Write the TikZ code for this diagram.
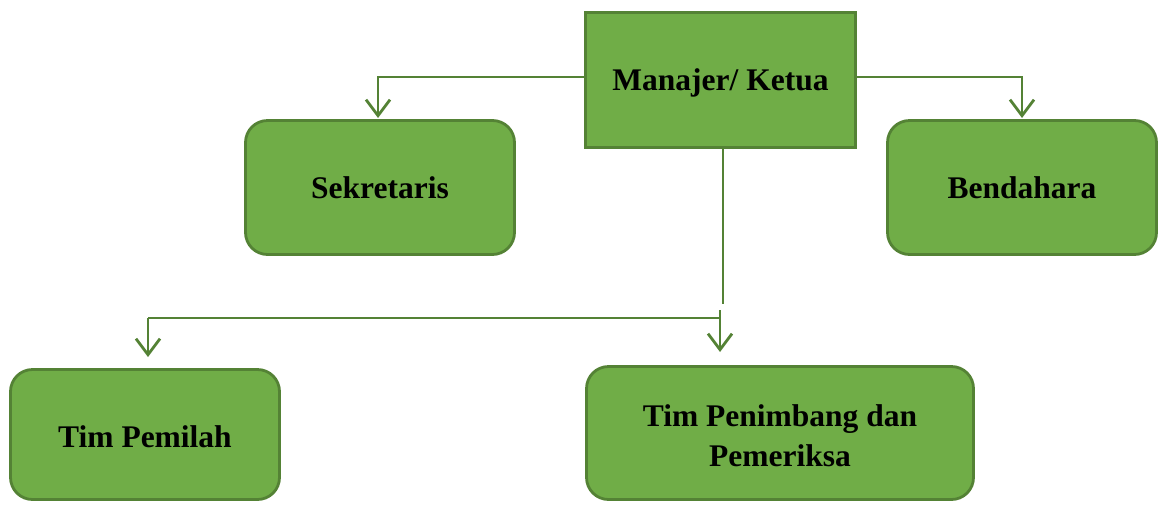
\documentclass[tikz,border=0pt]{standalone}
\usepackage{fontspec}
\setmainfont{Liberation Serif}
\usetikzlibrary{arrows.meta}
\definecolor{boxfill}{HTML}{70AD47}
\definecolor{boxline}{HTML}{548235}
\begin{document}
\begin{tikzpicture}[x=1pt,y=-1pt,
  box/.style={draw=boxline,fill=boxfill,line width=2.8pt,inner sep=0pt,
    font=\fontsize{31.5}{40}\selectfont\bfseries,align=center},
  rbox/.style={box,rounded corners=22pt},
  link/.style={draw=boxline,line width=2.8pt},
  arr/.style={link,-{Straight Barb[length=16pt,width=24pt,line width=2.8pt]}}]
\useasboundingbox (0,0) rectangle (1161,507);
\node[box,minimum width=270pt,minimum height=135pt] (ketua) at (720.5,80) {};
\node at (ketua.center) [font=\fontsize{31.5}{40}\selectfont\bfseries,yshift=-2.5pt] {Manajer/ Ketua};
\node[rbox,minimum width=269pt,minimum height=134pt] (sek) at (380,187.5) {Sekretaris};
\node[rbox,minimum width=269pt,minimum height=134pt] (ben) at (1022,187.5) {Bendahara};
\node[rbox,minimum width=269pt,minimum height=130pt] (pem) at (145,434.5) {};
\node at (pem.center) [font=\fontsize{31.5}{40}\selectfont\bfseries,yshift=-2.5pt] {Tim Pemilah};
\node[rbox,minimum width=387pt,minimum height=133pt] (pen) at (780,433) {};
\node at (pen.center) [font=\fontsize{31.5}{40}\selectfont\bfseries,align=center,yshift=-3pt] {Tim Penimbang dan\\Pemeriksa};
% branches from the head to the two staff boxes
\coordinate (sekturn) at (378,77);
\coordinate (benturn) at (1022,77);
\draw[arr] (ketua.west |- sekturn) -- (sekturn) -- (378,118);
\draw[arr] (ketua.east |- benturn) -- (benturn) -- (1022,118);
% trunk down to the two teams
\coordinate (trunkend) at (723,304);
\draw[link] (723,148) -- (trunkend);
\coordinate (bar) at (720,318);
\coordinate (barleft) at (148,318);
\draw[link] (bar) -- (barleft);
\draw[arr] (barleft) -- (148,357);
\draw[arr] (720,310) -- (720,352);
\end{tikzpicture}
\end{document}
